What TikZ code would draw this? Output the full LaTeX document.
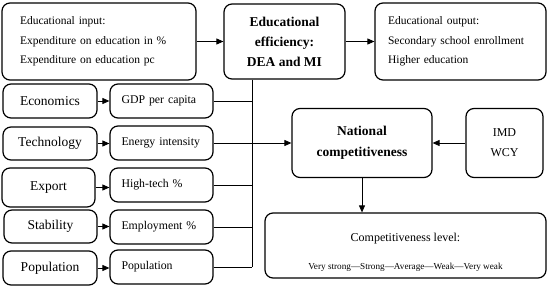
\documentclass[tikz,border=0pt]{standalone}
\usepackage{fontspec}
\setmainfont{Liberation Serif}
\usetikzlibrary{arrows.meta}

\begin{document}
\begin{tikzpicture}[x=1pt,y=-1pt,
  box/.style={draw,line width=1.2pt,rounded corners=8pt,inner sep=0pt},
  areabox/.style={box,minimum width=94pt,minimum height=34pt,font=\fontsize{13.5}{16}\selectfont},
  indbox/.style={box,minimum width=103pt,minimum height=34pt,text width=80pt,inner xsep=11.5pt,align=left,font=\fontsize{11.8}{14}\selectfont},
  link/.style={line width=0.8pt},
  arr/.style={link,-{Triangle[length=7pt,width=6pt]}}]
	\useasboundingbox (0,0) rectangle (550,289);

	% Educacion
	\node[box,minimum width=194pt,minimum height=77pt,text width=158pt,inner xsep=18pt,align=left,font=\fontsize{11.5}{19.5}\selectfont] (input) at (99,41.5) {Educational input:\\Expenditure on education in \%\\Expenditure on education pc};
	\node[box,minimum width=121pt,minimum height=75pt,align=center,font=\bfseries\fontsize{13.5}{20}\selectfont] (eff) at (284.5,41.5) {Educational\\efficiency:\\DEA and MI};
	\node[box,minimum width=167pt,minimum height=77pt,text width=145pt,inner xsep=13pt,align=left,font=\fontsize{11.5}{19.5}\selectfont] (output) at (460.5,41.5) {Educational output:\\Secondary school enrollment\\Higher education};
	\draw[arr] (input.east) -- (eff.west);
	\draw[arr] (eff.east) -- (output.west);

	% Areas e indicadores
	\node[areabox] (econ) at (50,101) {Economics};
	\node[areabox,minimum height=33pt] (tech) at (50,143.5) {Technology};
	\node[areabox,minimum height=39pt,minimum width=93pt] (export) at (48.5,187.5) {Export};
	\node[areabox,minimum height=33pt,minimum width=93pt] (stab) at (50.5,226.5) {Stability};
	\node[areabox] (popl) at (50,268) {Population};

	\node[indbox] (gdp) at (161.5,101) {GDP per capita};
	\node[indbox] (energy) at (161.5,143) {Energy intensity};
	\node[indbox] (hitech) at (161.5,185) {High-tech \%};
	\node[indbox] (employ) at (161.5,227) {Employment \%};
	\node[indbox] (popi) at (161.5,267) {Population};

	\draw[arr] (econ.east) -- (econ.east -| gdp.west);
	\draw[arr] (tech.east) -- (tech.east -| energy.west);
	\draw[arr] (export.east) -- (export.east -| hitech.west);
	\draw[arr] (stab.east) -- (stab.east -| employ.west);
	\draw[arr] (popl.east) -- (popl.east -| popi.west);

	% Linea colectora
	\coordinate (bus) at (252,0);
	\draw[link] (eff.south -| bus) -- (popi.east -| bus);
	\draw[link] (gdp.east) -- (gdp.east -| bus);
	\draw[link] (energy.east) -- (energy.east -| bus);
	\draw[link] (hitech.east) -- (hitech.east -| bus);
	\draw[link] (employ.east) -- (employ.east -| bus);
	\draw[link] (popi.east) -- (popi.east -| bus);

	% Competitividad
	\node[box,minimum width=140pt,minimum height=69pt,align=center,font=\bfseries\fontsize{13.5}{21}\selectfont] (nat) at (362,143) {National\\competitiveness};
	\node[box,minimum width=77pt,minimum height=69pt,align=center,font=\fontsize{12}{20}\selectfont] (imd) at (504.5,143) {IMD\\WCY};
	\node[box,minimum width=281pt,minimum height=65pt,align=center,font=\fontsize{9.2}{28}\selectfont] (level) at (405.5,245.5) {{\fontsize{12}{28}\selectfont\rule{0pt}{21pt}Competitiveness level:}\\Very strong—Strong—Average—Weak—Very weak};
	\draw[arr] (energy.east -| bus) -- (nat.west);
	\draw[arr] (imd.west) -- (nat.east);
	\draw[arr] (nat.south) -- (nat.south |- level.north);
\end{tikzpicture}
\end{document}
